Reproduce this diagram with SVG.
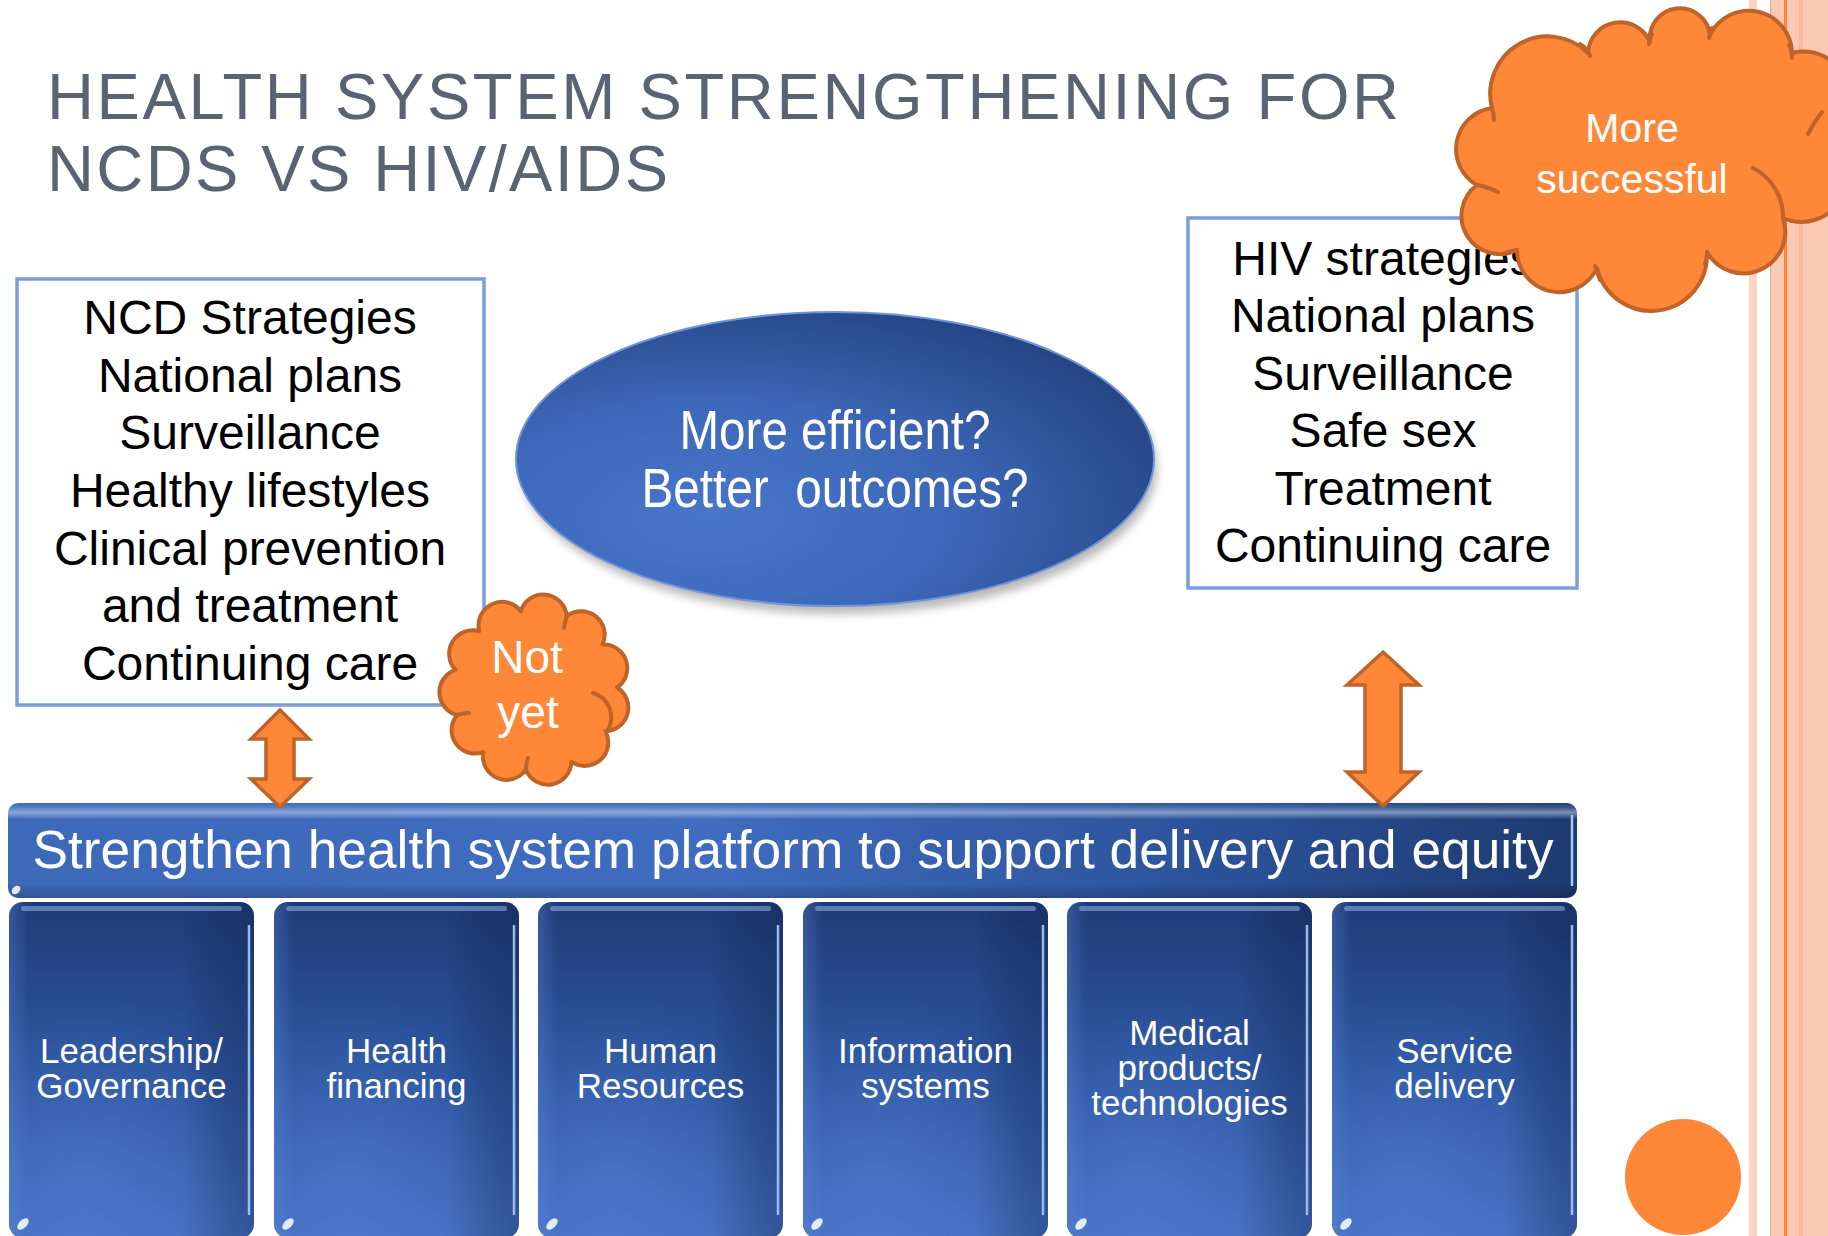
<svg xmlns="http://www.w3.org/2000/svg" width="1828" height="1236" viewBox="0 0 1828 1236">
<defs>
<style>
.t{font-family:"Liberation Sans",Arial,Helvetica,sans-serif}
.title{font-size:65px;fill:#5A6372}
.box{fill:#fff;stroke:#7B9DDA;stroke-width:3.5}
.bt{font-size:48px;fill:#000;text-anchor:middle}
.cloud{fill:#FE8837;stroke:#BF6329;stroke-width:4;stroke-linejoin:round}
.ci{fill:none;stroke:#BF6329;stroke-width:4;stroke-linecap:round}
.ct{fill:#fff;text-anchor:middle}
.pb{fill:url(#gPillar)}
.ps{fill:url(#gPillarSide)}
.pr{fill:url(#gPillarGlow)}
.ph{fill:#8FB2EC;opacity:0.55}
.pe{stroke:#A9C8F4;stroke-width:2.5;opacity:0.9}
.spot{fill:#fff;opacity:0.85}
.pt{font-size:35px;fill:#fff;text-anchor:middle}
.arrow{fill:#FE8837;stroke:#BF6329;stroke-width:3.5;stroke-linejoin:miter}
</style>
<linearGradient id="gBanner" x1="0" y1="0" x2="1" y2="0">
 <stop offset="0" stop-color="#3D69B9"/>
 <stop offset="0.45" stop-color="#3F6CBF"/>
 <stop offset="0.8" stop-color="#2A4F95"/>
 <stop offset="1" stop-color="#1E3A6F"/>
</linearGradient>
<linearGradient id="gBannerGloss" x1="0" y1="0" x2="0" y2="1">
 <stop offset="0" stop-color="#fff" stop-opacity="0"/>
 <stop offset="0.05" stop-color="#fff" stop-opacity="0.15"/>
 <stop offset="0.1" stop-color="#CFE0FF" stop-opacity="0.5"/>
 <stop offset="0.17" stop-color="#fff" stop-opacity="0"/>
 <stop offset="0.85" stop-color="#000" stop-opacity="0"/>
 <stop offset="1" stop-color="#000" stop-opacity="0.2"/>
</linearGradient>
<linearGradient id="gPillar" x1="0" y1="0" x2="0" y2="1">
 <stop offset="0" stop-color="#203C77"/>
 <stop offset="0.5" stop-color="#2D55A0"/>
 <stop offset="1" stop-color="#4570C2"/>
</linearGradient>
<linearGradient id="gPillarSide" x1="0" y1="0" x2="1" y2="0">
 <stop offset="0" stop-color="#5A88DA" stop-opacity="0.35"/>
 <stop offset="0.08" stop-color="#5A88DA" stop-opacity="0"/>
 <stop offset="0.7" stop-color="#000" stop-opacity="0"/>
 <stop offset="1" stop-color="#0A1A40" stop-opacity="0.3"/>
</linearGradient>
<radialGradient id="gPillarGlow" cx="0.3" cy="0.85" r="0.6">
 <stop offset="0" stop-color="#5B8BDC" stop-opacity="0.35"/>
 <stop offset="1" stop-color="#5B8BDC" stop-opacity="0"/>
</radialGradient>
<radialGradient id="gEll" cx="0.3" cy="0.7" r="0.85">
 <stop offset="0" stop-color="#4876CB"/>
 <stop offset="0.45" stop-color="#3D68B9"/>
 <stop offset="1" stop-color="#213F7B"/>
</radialGradient>
<filter id="sh" x="-10%" y="-10%" width="120%" height="130%"><feGaussianBlur stdDeviation="5"/></filter>
</defs>

<rect x="0" y="0" width="1828" height="1236" fill="#fff"/>

<g id="decor">
 <rect x="1749" y="0" width="8" height="1236" fill="#FDD3C1"/>
 <rect x="1770" y="0" width="58" height="1236" fill="#FCC9B4"/>
 <rect x="1770" y="0" width="1.2" height="1236" fill="#D9B3A3"/>
 <rect x="1784" y="0" width="3" height="1236" fill="#FE8637"/>
 <rect x="1799" y="0" width="4" height="1236" fill="#FBBA9C"/>
 <circle cx="1683" cy="1177" r="58" fill="#FE8637"/>
</g>

<g id="title" class="t title">
 <text x="47" y="119" textLength="1352" lengthAdjust="spacing">HEALTH SYSTEM STRENGTHENING FOR</text>
 <text x="47" y="191" textLength="621" lengthAdjust="spacing">NCDS VS HIV/AIDS</text>
</g>

<g id="ncd-box">
 <rect class="box" x="17" y="279" width="467" height="426"/>
 <text class="t bt" x="250" y="334">NCD Strategies</text>
 <text class="t bt" x="250" y="392">National plans</text>
 <text class="t bt" x="250" y="449">Surveillance</text>
 <text class="t bt" x="250" y="507">Healthy lifestyles</text>
 <text class="t bt" x="250" y="565">Clinical prevention</text>
 <text class="t bt" x="250" y="622">and treatment</text>
 <text class="t bt" x="250" y="680">Continuing care</text>
</g>

<g id="hiv-box">
 <rect class="box" x="1188" y="218" width="389" height="370"/>
 <text class="t bt" x="1383" y="275">HIV strategies</text>
 <text class="t bt" x="1383" y="332">National plans</text>
 <text class="t bt" x="1383" y="390">Surveillance</text>
 <text class="t bt" x="1383" y="447">Safe sex</text>
 <text class="t bt" x="1383" y="505">Treatment</text>
 <text class="t bt" x="1383" y="562">Continuing care</text>
</g>

<g id="ellipse-question">
 <ellipse cx="839" cy="468" rx="318" ry="146" fill="#000" opacity="0.28" filter="url(#sh)"/>
 <ellipse cx="835" cy="459" rx="319" ry="147" fill="url(#gEll)" stroke="#6F95D8" stroke-width="2"/>
 <text class="t ct" x="835" y="449" font-size="56" textLength="311" lengthAdjust="spacingAndGlyphs">More efficient?</text>
 <text class="t ct" x="835" y="507" font-size="56" textLength="387" lengthAdjust="spacingAndGlyphs" xml:space="preserve">Better  outcomes?</text>
</g>

<g id="banner">
 <rect x="8" y="803" width="1569" height="95" rx="10" fill="url(#gBanner)"/>
 <rect x="8" y="803" width="1569" height="95" rx="10" fill="url(#gBannerGloss)"/>
 <line x1="1572" y1="815" x2="1572" y2="886" stroke="#A9C8F4" stroke-width="2.5"/>
 <ellipse cx="16" cy="890" rx="5" ry="3.5" transform="rotate(-45 16 890)" class="spot"/>
 <text class="t" x="793" y="868" font-size="53" fill="#fff" text-anchor="middle" textLength="1521" lengthAdjust="spacingAndGlyphs">Strengthen health system platform to support delivery and equity</text>
</g>

<g id="pillar-1" transform="translate(9,0)">
 <rect class="pb" x="0" y="902" width="245" height="336" rx="14"/>
 <rect class="ps" x="0" y="902" width="245" height="336" rx="14"/>
 <rect class="pr" x="0" y="902" width="245" height="336" rx="14"/>
 <rect class="ph" x="12" y="906" width="221" height="5" rx="2.5"/>
 <line class="pe" x1="240" y1="925" x2="240" y2="1215"/>
 <ellipse class="spot" cx="14" cy="1224" rx="7" ry="4" transform="rotate(-45 14 1224)"/>
 <text class="t pt" x="122.5" y="1063">Leadership/</text>
 <text class="t pt" x="122.5" y="1098">Governance</text>
</g>
<g id="pillar-2" transform="translate(274,0)">
 <rect class="pb" x="0" y="902" width="245" height="336" rx="14"/>
 <rect class="ps" x="0" y="902" width="245" height="336" rx="14"/>
 <rect class="pr" x="0" y="902" width="245" height="336" rx="14"/>
 <rect class="ph" x="12" y="906" width="221" height="5" rx="2.5"/>
 <line class="pe" x1="240" y1="925" x2="240" y2="1215"/>
 <ellipse class="spot" cx="14" cy="1224" rx="7" ry="4" transform="rotate(-45 14 1224)"/>
 <text class="t pt" x="122.5" y="1063">Health</text>
 <text class="t pt" x="122.5" y="1098">financing</text>
</g>
<g id="pillar-3" transform="translate(538,0)">
 <rect class="pb" x="0" y="902" width="245" height="336" rx="14"/>
 <rect class="ps" x="0" y="902" width="245" height="336" rx="14"/>
 <rect class="pr" x="0" y="902" width="245" height="336" rx="14"/>
 <rect class="ph" x="12" y="906" width="221" height="5" rx="2.5"/>
 <line class="pe" x1="240" y1="925" x2="240" y2="1215"/>
 <ellipse class="spot" cx="14" cy="1224" rx="7" ry="4" transform="rotate(-45 14 1224)"/>
 <text class="t pt" x="122.5" y="1063">Human</text>
 <text class="t pt" x="122.5" y="1098">Resources</text>
</g>
<g id="pillar-4" transform="translate(803,0)">
 <rect class="pb" x="0" y="902" width="245" height="336" rx="14"/>
 <rect class="ps" x="0" y="902" width="245" height="336" rx="14"/>
 <rect class="pr" x="0" y="902" width="245" height="336" rx="14"/>
 <rect class="ph" x="12" y="906" width="221" height="5" rx="2.5"/>
 <line class="pe" x1="240" y1="925" x2="240" y2="1215"/>
 <ellipse class="spot" cx="14" cy="1224" rx="7" ry="4" transform="rotate(-45 14 1224)"/>
 <text class="t pt" x="122.5" y="1063">Information</text>
 <text class="t pt" x="122.5" y="1098">systems</text>
</g>
<g id="pillar-5" transform="translate(1067,0)">
 <rect class="pb" x="0" y="902" width="245" height="336" rx="14"/>
 <rect class="ps" x="0" y="902" width="245" height="336" rx="14"/>
 <rect class="pr" x="0" y="902" width="245" height="336" rx="14"/>
 <rect class="ph" x="12" y="906" width="221" height="5" rx="2.5"/>
 <line class="pe" x1="240" y1="925" x2="240" y2="1215"/>
 <ellipse class="spot" cx="14" cy="1224" rx="7" ry="4" transform="rotate(-45 14 1224)"/>
 <text class="t pt" x="122.5" y="1045">Medical</text>
 <text class="t pt" x="122.5" y="1080">products/</text>
 <text class="t pt" x="122.5" y="1115">technologies</text>
</g>
<g id="pillar-6" transform="translate(1332,0)">
 <rect class="pb" x="0" y="902" width="245" height="336" rx="14"/>
 <rect class="ps" x="0" y="902" width="245" height="336" rx="14"/>
 <rect class="pr" x="0" y="902" width="245" height="336" rx="14"/>
 <rect class="ph" x="12" y="906" width="221" height="5" rx="2.5"/>
 <line class="pe" x1="240" y1="925" x2="240" y2="1215"/>
 <ellipse class="spot" cx="14" cy="1224" rx="7" ry="4" transform="rotate(-45 14 1224)"/>
 <text class="t pt" x="122.5" y="1063">Service</text>
 <text class="t pt" x="122.5" y="1098">delivery</text>
</g>

<g id="connectors">
 <path class="arrow" d="M280,710 L309,739 L294,739 L294,779 L309,779 L280,807 L251,779 L266,779 L266,739 L251,739 Z"/>
 <path class="arrow" d="M1383,652 L1419,685 L1401,685 L1401,772 L1419,772 L1383,806 L1347,772 L1365,772 L1365,685 L1347,685 Z"/>
</g>

<g id="cloud-not-yet">
 <path class="cloud" d="M520.8,611.2 A23.5,23.5 0 0,1 566.7,616.2 A23.5,23.5 0 0,1 602.5,644.6 A23.5,23.5 0 0,1 617,687.5 A23.5,23.5 0 0,1 605.4,731.1 A23.5,23.5 0 0,1 571.4,761.7 A23.5,23.5 0 0,1 525.9,769.5 A23.5,23.5 0 0,1 483.3,752.1 A23.5,23.5 0 0,1 457.1,715 A23.5,23.5 0 0,1 455.6,669.9 A23.5,23.5 0 0,1 479.3,631.2 A23.5,23.5 0 0,1 520.8,611.2 Z"/>
 <path class="ci" d="M593,693 A25,25 0 0,1 607,731"/>
 <path class="ci" d="M526,769 Q526,764 528,758"/>
 <path class="ci" d="M457,715 Q463,713 469,713"/>
 <path class="ci" d="M566.7,616.2 Q565,622 564,628"/>
 <text class="t ct" x="527" y="673" font-size="46">Not</text>
 <text class="t ct" x="528" y="728" font-size="46">yet</text>
</g>

<g id="cloud-more-successful">
 <path class="cloud" d="M1492,108 A57.4,57.4 0 0,1 1588,53 A32.3,32.3 0 0,1 1650,42 A30.2,30.2 0 0,1 1710,35 A43.2,43.2 0 0,1 1792,53 A48.2,48.2 0 0,1 1830,140 A45.9,45.9 0 0,1 1783,218 A41.8,41.8 0 0,1 1707,252 A55.8,55.8 0 0,1 1597,268 A42,42 0 0,1 1517,250 A38.3,38.3 0 0,1 1477,185 A41.4,41.4 0 0,1 1492,108 Z"/>
 <path class="ci" d="M1492,108 Q1494,114 1494,120"/>
 <path class="ci" d="M1580,44 Q1587,48 1590,56"/>
 <path class="ci" d="M1652,34 Q1650,38 1649,44"/>
 <path class="ci" d="M1712,28 Q1710,32 1709,38"/>
 <path class="ci" d="M1789,45 Q1792,50 1792,58"/>
 <path class="ci" d="M1822,112 Q1814,122 1808,134"/>
 <path class="ci" d="M1753,168 A55,55 0 0,1 1783,218"/>
 <path class="ci" d="M1707,252 Q1707,258 1705,264"/>
 <path class="ci" d="M1595,266 Q1597,272 1600,280"/>
 <path class="ci" d="M1517,250 Q1511,251 1505,253"/>
 <path class="ci" d="M1478,185 Q1490,188 1498,192"/>
 <text class="t ct" x="1632" y="142" font-size="41">More</text>
 <text class="t ct" x="1632" y="193" font-size="41">successful</text>
</g>
</svg>
